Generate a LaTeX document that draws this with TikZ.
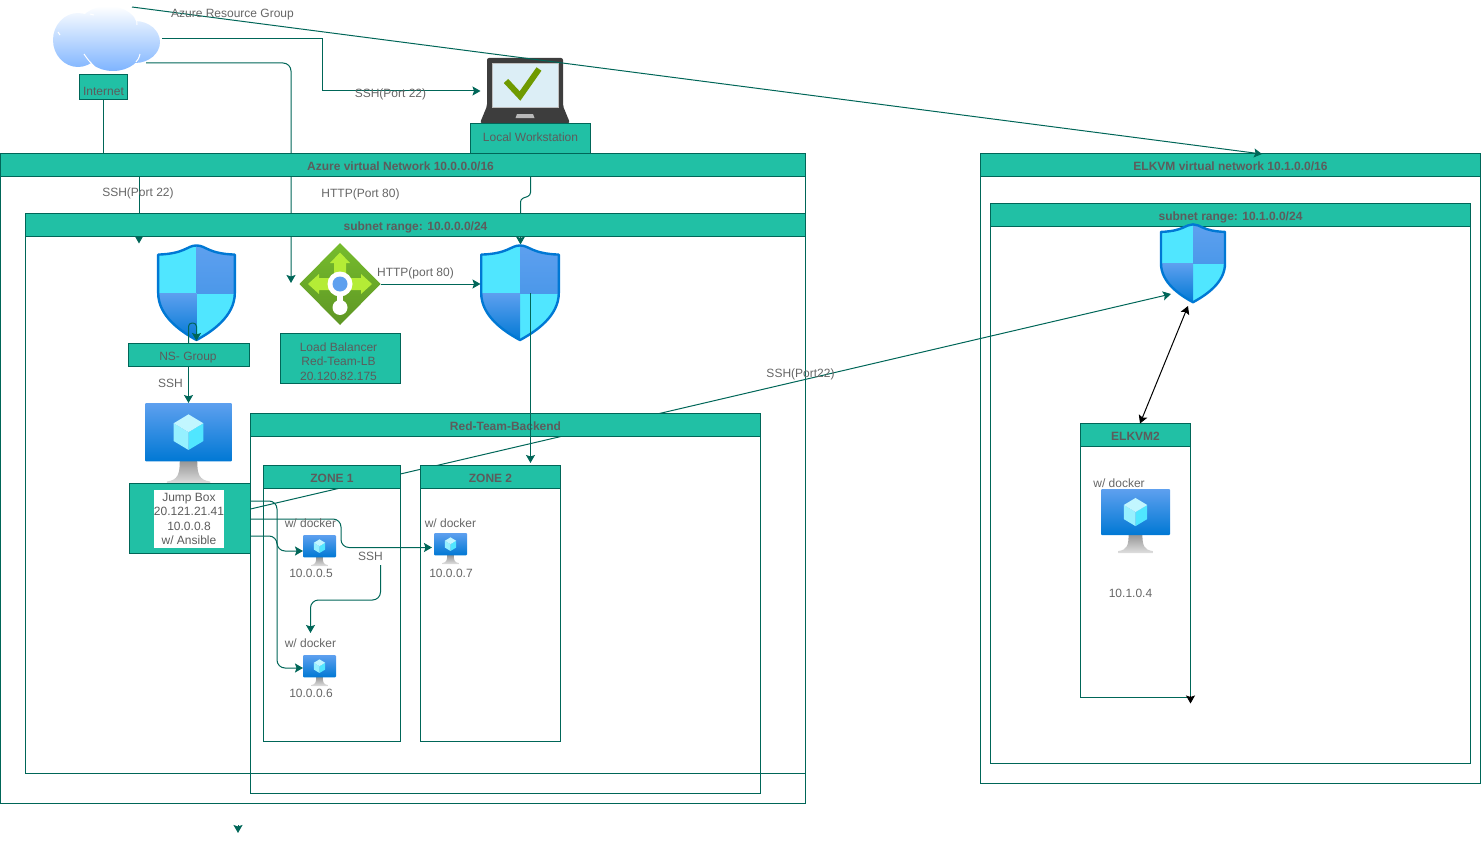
\documentclass[tikz,border=0pt]{standalone}
\usepackage{fontspec}
\setmainfont{Liberation Sans}
\usetikzlibrary{arrows.meta}
\definecolor{lanegreen}{HTML}{21C0A5}
\definecolor{linegreen}{HTML}{006658}
\definecolor{headgrey}{HTML}{5C5C5C}
\definecolor{labelgrey}{HTML}{666666}
\definecolor{shieldcyan}{HTML}{50E6FF}
\definecolor{azblue}{HTML}{0078D4}
\definecolor{azlight}{HTML}{5EA0EF}
\definecolor{cloudblue}{HTML}{7EB4FF}
\definecolor{lbtop}{HTML}{76BC2D}
\definecolor{lbfoot}{HTML}{5E9624}
\definecolor{lbarrow}{HTML}{B4EC36}
\definecolor{tickgreen}{HTML}{6F9A00}
\definecolor{screenblue}{HTML}{DCEEF6}
\tikzset{
	lanebody/.style = {draw = linegreen, line width = 1pt, outer sep = 0pt, inner sep = 0pt, anchor = north west},
	lanehead/.style = {lanebody, fill = lanegreen, font = \fontsize{12}{14}\selectfont\bfseries, text = headgrey, minimum height = 23pt},
	greenbox/.style = {draw = linegreen, line width = 1pt, fill = lanegreen, outer sep = 0pt, inner sep = 0pt, text = headgrey, font = \fontsize{12}{14}\selectfont, align = center},
	lbl/.style = {text = labelgrey, inner sep = 0pt, font = \fontsize{12}{14.5}\selectfont, align = center},
	boxlbl/.style = {lbl, text = headgrey},
	link/.style = {draw = linegreen, line width = 1pt, -{Stealth[length = 8pt, width = 9pt, inset = 1.5pt]}},
	plainlink/.style = {draw = linegreen, line width = 1pt},
	blacklink/.style = {draw = black, line width = 1pt}
}
\newcommand{\lane}[6]{\node[lanebody, minimum width = #4 pt, minimum height = #5 pt] (#1) at (#2,#3) {};
					\node[lanehead, minimum width = #4 pt] (#1head) at (#2,#3) {\raisebox{-5pt}[0pt][0pt]{#6}};}
\newcommand{\shieldpath}{(0.5,0.005) .. controls (0.38,0.005) and (0.36,0.09) .. (0.015,0.10) -- (0.015,0.50) .. controls (0.015,0.74) and (0.30,0.90) .. (0.5,0.99) .. controls (0.70,0.90) and (0.985,0.74) .. (0.985,0.50) -- (0.985,0.10) .. controls (0.64,0.09) and (0.62,0.005) .. (0.5,0.005) -- cycle}
\newcommand{\shieldicon}{\begin{scope}
						\clip \shieldpath;
						\fill[shieldcyan] (0,0) rectangle (1,1);
						\shade[top color = azlight, bottom color = azlight!80!azblue] (0.5,0) rectangle (1,0.5);
						\shade[top color = azlight, bottom color = azblue] (0,0.5) rectangle (0.5,1);
					\end{scope}
					\draw[azblue, line width = 2.4pt, line join = round] \shieldpath;}
\newcommand{\vmicon}{\shade[top color = gray!85, bottom color = gray!25] (0.40,0.70) -- (0.60,0.70) .. controls (0.60,0.88) and (0.62,0.95) .. (0.75,0.97) -- (0.75,1) -- (0.25,1) -- (0.25,0.97) .. controls (0.38,0.95) and (0.40,0.88) .. (0.40,0.70) -- cycle;
					\shade[top color = azlight, bottom color = azblue, rounded corners = 1pt] (0,0) rectangle (1,0.72);
					\fill[shieldcyan] (0.5,0.36) -- (0.67,0.25) -- (0.67,0.47) -- (0.5,0.58) -- cycle;
					\fill[shieldcyan!60!white] (0.5,0.36) -- (0.33,0.25) -- (0.33,0.47) -- (0.5,0.58) -- cycle;
					\fill[shieldcyan!35!white] (0.5,0.14) -- (0.67,0.25) -- (0.5,0.36) -- (0.33,0.25) -- cycle;}
\newcommand{\balancericon}{\shade[top color = lbtop, bottom color = lbfoot] (340,243) -- (380.5,284) -- (340,325) -- (299.5,284) -- cycle;
					\fill[lbarrow] (340,252.5) -- (350,263) -- (346,263) -- (346,278) -- (361,278) -- (361,274) -- (372,284) -- (361,294) -- (361,290) -- (319,290) -- (319,294) -- (308,284) -- (319,274) -- (319,278) -- (334,278) -- (334,263) -- (330,263) -- cycle;
					\fill[white] (337,290) rectangle (343,302);
					\fill[white] (340,307.5) circle (7.5);
					\fill[white] (340,284) circle (12.5);
					\fill[azlight] (340,284) circle (7.5);}
\newcommand{\laptopicon}{\fill[black!76, rounded corners = 2pt] (487,123) -- (480,123) -- (487,106) -- (487,58) -- (563,58) -- (563,106) -- (570,123) -- cycle;
					\fill[screenblue, draw = gray!50] (492,63) rectangle (558,107);
					\fill[gray!55] (517,114) -- (533,114) -- (534.5,118) -- (515.5,118) -- cycle;
					\draw[tickgreen, line width = 6pt] (506,81) -- (520,96) -- (539,69);}
\newcommand{\cloudicon}{\shade[top color = white, bottom color = cloudblue] (78,40) ellipse (25 and 27) (108,28) ellipse (30 and 22) (135,42) ellipse (25 and 21) (113,49) ellipse (29 and 22);
					\draw[white, line width = 1pt] (84,54) .. controls (88,60) and (90,62) .. (94,66);
					\draw[white, line width = 1pt] (140,54) .. controls (139,58) and (138,60) .. (136,62);
					\draw[white, line width = 1pt] (135,18) .. controls (137,20) and (137,22) .. (137,25);
					\draw[white, line width = 1pt] (90,14) -- (94,15);
					\draw[white, line width = 1pt] (58,32) -- (60,35);}
\begin{document}
\begin{tikzpicture}[x = 1pt, y = -1pt]

					\useasboundingbox (0,0) rectangle (1481,843);

					\coordinate (cloudtop) at (132,7);
					\coordinate (cloudright) at (162,39);
					\coordinate (cloudlow) at (146,63);
					\coordinate (azureelbow) at (322,91);
					\coordinate (wsleft) at (480.5,91);
					\coordinate (sshtop) at (139,176);
					\coordinate (sshtip) at (139,243.5);
					\coordinate (lbtip) at (291,283);
					\coordinate (vnettop) at (103.5,153);
					\coordinate (elktip) at (1262,154);
					\coordinate (wsfoot) at (530.5,176);
					\coordinate (webtip) at (520.5,244.5);
					\coordinate (webleft) at (480.5,284);
					\coordinate (webmid) at (530.5,293);
					\coordinate (zonetip) at (530.5,463);
					\coordinate (jumpa) at (250.5,501);
					\coordinate (jumpb) at (250.5,519);
					\coordinate (jumpc) at (250.5,536);
					\coordinate (jumpd) at (250.5,509);
					\coordinate (vmjump) at (188.5,403);
					\coordinate (vmfive) at (303,551);
					\coordinate (vmsix) at (303,668);
					\coordinate (vmseven) at (432,547.5);
					\coordinate (elkin) at (1171,294);
					\coordinate (sshfoot) at (380.5,565);
					\coordinate (sshdown) at (310.5,633);
					\coordinate (nsgcurl) at (188.5,343.5);
					\coordinate (nsgtip) at (196.5,341);
					\coordinate (elkshieldfoot) at (1188,306);
					\coordinate (elkvmtop) at (1140,423.5);
					\coordinate (elkcorner) at (1190.5,696);
					\coordinate (elkcornertip) at (1190.5,703.5);
					\coordinate (stubtop) at (238,825);
					\coordinate (stubtip) at (238,833);

					\draw[link, rounded corners = 8pt] (cloudlow) -| (lbtip);
					\draw[link] (sshtop) -- (sshtip);
					\draw[link, rounded corners = 3pt] (wsfoot) -- (530.5,195.5) -- (520.5,199) -- (webtip);
					\draw[link] (jumpd) -- (elkin);

					\lane{azurevnet}{0.5}{153.5}{805}{650}{Azure virtual Network 10.0.0.0/16\hspace{5pt}}
					\lane{azuresubnet}{25.5}{213.5}{780}{560}{subnet range: 10.0.0.0/24}
					\lane{backend}{250.5}{413.5}{510}{380}{Red-Team-Backend}
					\lane{zoneone}{263.5}{465.5}{137}{275.5}{ZONE 1}
					\lane{zonetwo}{420.5}{465.5}{140}{275.5}{ZONE 2}
					\lane{elkvnet}{980.5}{153.5}{500}{630}{ELKVM virtual network 10.1.0.0/16}
					\lane{elksubnet}{990.5}{203.5}{480}{560}{subnet range: 10.1.0.0/24}
					\lane{elkvm}{1080.5}{423.5}{110}{274}{ELKVM2}

					\cloudicon
					\laptopicon
					\balancericon

					\begin{scope}[shift = {(157,245)}, x = 79pt, y = -96pt]
						\shieldicon
					\end{scope}

					\begin{scope}[shift = {(480,245)}, x = 80pt, y = -96pt]
						\shieldicon
					\end{scope}

					\begin{scope}[shift = {(1160,224)}, x = 66pt, y = -79pt]
						\shieldicon
					\end{scope}

					\begin{scope}[shift = {(145,403)}, x = 87pt, y = -81pt]
						\vmicon
					\end{scope}

					\begin{scope}[shift = {(303,535)}, x = 33pt, y = -31pt]
						\vmicon
					\end{scope}

					\begin{scope}[shift = {(303,655)}, x = 33pt, y = -31pt]
						\vmicon
					\end{scope}

					\begin{scope}[shift = {(434,533)}, x = 33pt, y = -31pt]
						\vmicon
					\end{scope}

					\begin{scope}[shift = {(1101,489)}, x = 69pt, y = -64pt]
						\vmicon
					\end{scope}

					\node[inner sep = 0pt, minimum width = 81pt, minimum height = 82pt] (balancer) at (340,284) {};
					\node[greenbox, minimum width = 48pt, minimum height = 25pt] (internet) at (103.5,87) {};
					\node[greenbox, minimum width = 120pt, minimum height = 30pt] (workstation) at (530.5,138.5) {\raisebox{-3pt}[0pt][0pt]{Local Workstation}};
					\node[greenbox, minimum width = 121pt, minimum height = 23pt] (nsgroup) at (188.5,355) {};
					\node[greenbox, minimum width = 120pt, minimum height = 50pt] (lbbox) at (340.5,358.5) {};
					\node[greenbox, minimum width = 121pt, minimum height = 70pt] (jumpbox) at (190,518.5) {};
					\node[fill = white, text = headgrey, inner sep = 0pt, minimum width = 70pt, minimum height = 58pt, font = \fontsize{12}{14.5}\selectfont, align = center] (jumplabel) at (189,519) {Jump Box\\20.121.21.41\\10.0.0.8\\w/ Ansible};

					\draw[plainlink] (internet.south) -- (vnettop);
					\draw[link] (cloudright) -| (azureelbow) -- (wsleft);
					\draw[link] (cloudtop) -- (elktip);
					\draw[link] (balancer.east) -- (webleft);
					\draw[link] (webmid) -- (zonetip);
					\draw[link] (nsgroup.south) -- (vmjump);
					\draw[link, rounded corners = 3.5pt] (nsgcurl) -- (188.5,323) -- (196.5,323) -- (nsgtip);
					\draw[link, rounded corners = 8pt] (jumpa) -- (277,501) -- (277,668) -- (vmsix);
					\draw[link, rounded corners = 8pt] (jumpb) -- (341,519) -- (341,547.5) -- (vmseven);
					\draw[link, rounded corners = 8pt] (jumpc) -- (277,536) -- (277,551) -- (vmfive);
					\draw[link, rounded corners = 8pt] (sshfoot) -- (380.5,600) -- (310.5,600) -- (sshdown);
					\draw[blacklink, {Stealth[length = 8pt, width = 9pt, inset = 1.5pt]}-{Stealth[length = 8pt, width = 9pt, inset = 1.5pt]}] (elkshieldfoot) -- (elkvmtop);
					\draw[blacklink, -{Stealth[length = 8pt, width = 9pt, inset = 1.5pt]}] (elkcorner) -- (elkcornertip);
					\draw[link] (stubtop) -- (stubtip);

					\node[lbl] (lblgroup) at (232.5,15) {Azure Resource Group};
					\node[boxlbl] (lblinternet) at (103.5,91.5) {Internet};
					\node[lbl] (lblsshws) at (390.5,94) {SSH(Port 22)};
					\node[lbl] (lblsshvnet) at (138,193.5) {SSH(Port 22)};
					\node[lbl] (lblhttpvnet) at (360.5,194) {HTTP(Port 80)};
					\node[lbl] (lblhttplb) at (415.5,273.5) {HTTP(port 80)};
					\node[boxlbl] (lblnsg) at (188,358) {NS- Group};
					\node[lbl] (lblsshjump) at (170.5,383) {SSH};
					\node[boxlbl] (lbllb) at (338.5,361.5) {Load Balancer\\Red-Team-LB\\20.120.82.175};
					\node[lbl] (lbldockerfive) at (310.5,523) {w/ docker};
					\node[lbl] (lblipfive) at (311,573.5) {10.0.0.5};
					\node[lbl] (lblsshzone) at (370.5,556) {SSH};
					\node[lbl] (lbldockersix) at (310.5,643) {w/ docker};
					\node[lbl] (lblipsix) at (311,693.5) {10.0.0.6};
					\node[lbl] (lbldockerseven) at (450.5,523) {w/ docker};
					\node[lbl] (lblipseven) at (451,573.5) {10.0.0.7};
					\node[lbl] (lblsshelk) at (800.5,374) {SSH(Port22)};
					\node[lbl] (lbldockerelk) at (1119,483) {w/ docker};
					\node[lbl] (lblipelk) at (1130.5,593) {10.1.0.4};

				\end{tikzpicture}
\end{document}
